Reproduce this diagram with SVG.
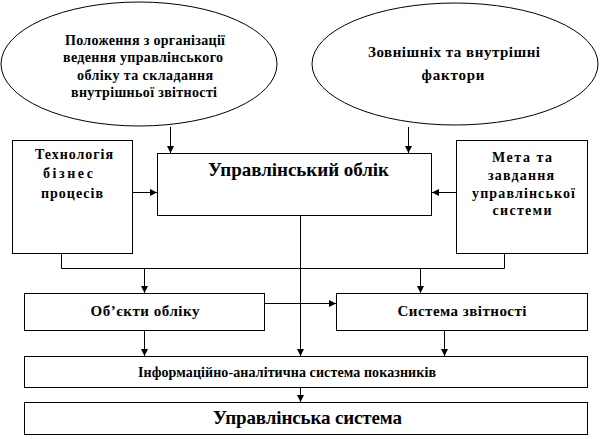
<svg xmlns="http://www.w3.org/2000/svg" width="602" height="439" viewBox="0 0 602 439">
<defs>
<marker id="ah" markerWidth="8" markerHeight="8" refX="7" refY="4" orient="auto" markerUnits="userSpaceOnUse">
<path d="M0,0.5 L7,4 L0,7.5 Z" fill="#000"/>
</marker>
<style>
.sh{fill:#fff;stroke:#000;stroke-width:1}
.t{font-family:"Liberation Serif","Times New Roman",serif;font-weight:bold;fill:#000;text-anchor:middle}
.s14{font-size:14px}
.s15{font-size:15px}
.s19{font-size:19px}
.ln{fill:none;stroke:#000;stroke-width:1}
.ar{fill:none;stroke:#000;stroke-width:1;marker-end:url(#ah)}
</style>
</defs>
<rect width="602" height="439" fill="#fff"/>
<g id="connectors">
<path class="ar" d="M170.5,127 V153"/>
<path class="ar" d="M408.5,127 V153"/>
<path class="ar" d="M133,192.5 H157"/>
<path class="ar" d="M456,192.5 H432"/>
<path class="ln" d="M61.5,254 V268.5 H504.5 V254"/>
<path class="ar" d="M144.5,268 V293"/>
<path class="ar" d="M420.5,268 V293"/>
<path class="ar" d="M300.5,216 V356"/>
<path class="ar" d="M265,303.5 H336"/>
<path class="ar" d="M144.5,331 V356"/>
<path class="ar" d="M444.5,331 V356"/>
<path class="ar" d="M300.5,388 V402"/>
</g>
<g id="ellipse-left">
<ellipse class="sh" cx="139" cy="64" rx="138" ry="62"/>
<text class="t s14" x="145" y="45" textLength="160">Положення з організації</text>
<text class="t s14" x="143" y="62" textLength="160">ведення управлінського</text>
<text class="t s14" x="145" y="80" textLength="136">обліку та складання</text>
<text class="t s14" x="144" y="97" textLength="146">внутрішньої звітності</text>
</g>
<g id="ellipse-right">
<ellipse class="sh" cx="455" cy="64" rx="143" ry="61"/>
<text class="t s15" x="454" y="57" textLength="172">Зовнішніх та внутрішні</text>
<text class="t s15" x="453" y="80" textLength="63">фактори</text>
</g>
<g id="tech">
<rect class="sh" x="12.5" y="140.5" width="120" height="113"/>
<text class="t s14" x="74" y="159" textLength="78">Технологія</text>
<text class="t s14" x="68" y="178" textLength="50">бізнес</text>
<text class="t s14" x="72" y="198" textLength="62">процесів</text>
</g>
<g id="uo">
<rect class="sh" x="157.5" y="153.5" width="274" height="62"/>
<text class="t s19" x="298.5" y="176" textLength="181">Управлінський облік</text>
</g>
<g id="meta">
<rect class="sh" x="456.5" y="140.5" width="131" height="113"/>
<text class="t s14" x="522" y="162" textLength="60">Мета та</text>
<text class="t s14" x="521" y="180" textLength="66">завдання</text>
<text class="t s14" x="523.5" y="198" textLength="103">управлінської</text>
<text class="t s14" x="522" y="215" textLength="59">системи</text>
</g>
<g id="objects">
<rect class="sh" x="24.5" y="293.5" width="240" height="37"/>
<text class="t s15" x="145" y="316" textLength="109">Об’єкти обліку</text>
</g>
<g id="reporting">
<rect class="sh" x="336.5" y="293.5" width="251" height="37"/>
<text class="t s15" x="462" y="316" textLength="129">Система звітності</text>
</g>
<g id="info">
<rect class="sh" x="24.5" y="356.5" width="563" height="31"/>
<text class="t s14" x="287" y="377" textLength="298">Інформаційно-аналітична система показників</text>
</g>
<g id="ms">
<rect class="sh" x="24.5" y="402.5" width="563" height="32"/>
<text class="t s19" x="307.5" y="424" textLength="189">Управлінська система</text>
</g>
</svg>
